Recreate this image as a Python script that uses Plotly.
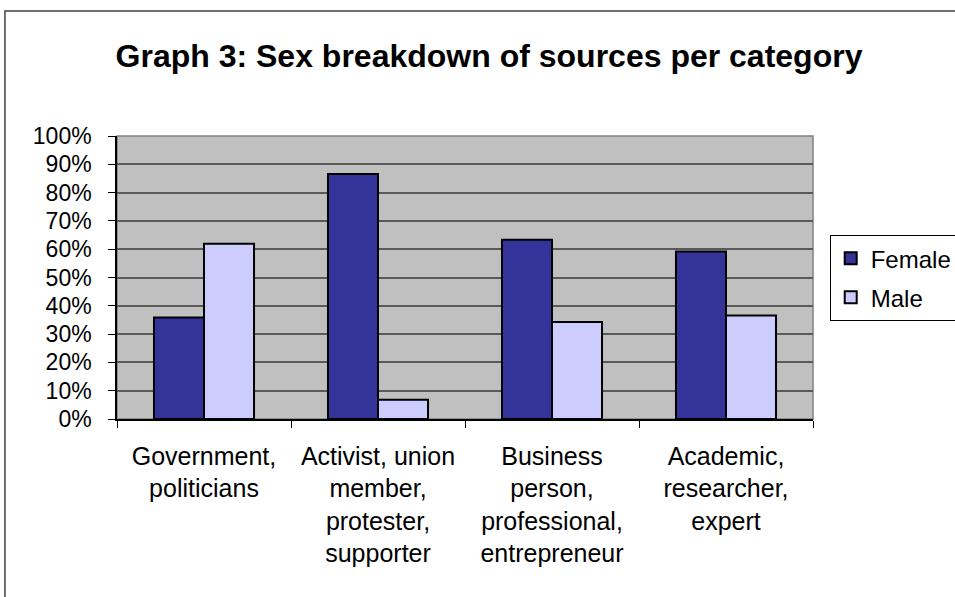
import plotly.graph_objects as go

# Source categories and the share of each sex (in %)
categories = [
    "Government,<br>politicians",
    "Activist, union<br>member,<br>protester,<br>supporter",
    "Business<br>person,<br>professional,<br>entrepreneur",
    "Academic,<br>researcher,<br>expert",
]
female_pct = [35.9, 86.6, 63.3, 59.2]
male_pct = [61.9, 6.8, 34.3, 36.6]

y_ticks = list(range(0, 101, 10))
y_tick_labels = [f"{v}%" for v in y_ticks]

FONT = "Liberation Sans, Arial, sans-serif"

fig = go.Figure()
fig.add_trace(go.Bar(
    name="Female", x=categories, y=female_pct, legendgroup="f",
    marker=dict(color="#333399", line=dict(color="#000000", width=2)),
))
fig.add_trace(go.Bar(
    name="Male", x=categories, y=male_pct, legendgroup="m",
    marker=dict(color="#CCCCFF", line=dict(color="#000000", width=2)),
))

# plot-area frame (drawn beneath the bars)
fig.add_shape(type="rect", xref="x domain", yref="y domain",
              x0=0, x1=1, y0=0, y1=1,
              line=dict(color="#808080", width=1.5), layer="below")

# outer chart border
fig.add_shape(type="rect", xref="paper", yref="paper",
              x0=-0.1610, x1=1.25, y0=-0.70, y1=1.4417,
              line=dict(color="#404040", width=1.5), layer="above")

fig.update_layout(
    width=955, height=597,
    margin=dict(l=117, r=142, t=136, b=178, autoexpand=False),
    paper_bgcolor="#FFFFFF",
    plot_bgcolor="#C0C0C0",
    font=dict(family=FONT, color="#000000"),
    barmode="group",
    bargap=0.425,
    bargroupgap=0,
    title=dict(
        text="Graph 3: Sex breakdown of sources per category",
        font=dict(family=FONT, size=32, weight="bold", color="#000000"),
        x=0.5345, xref="paper", xanchor="center",
        y=1 - 56 / 597, yref="container", yanchor="middle",
    ),
    legend=dict(
        x=1.024, xanchor="left", y=0.650, yanchor="top",
        bordercolor="#000000", borderwidth=1,
        bgcolor="#FFFFFF",
        font=dict(family=FONT, size=24),
        itemwidth=30,
        tracegroupgap=5,
    ),
    showlegend=True,
)

fig.update_xaxes(
    type="category",
    showline=True, linecolor="#000000", linewidth=1.5,
    ticks="outside", ticklen=7, tickcolor="#000000", tickwidth=1,
    tickson="boundaries",
    showgrid=False,
    tickfont=dict(family=FONT, size=25),
    ticklabelstandoff=14,
)
fig.update_yaxes(
    range=[0, 100],
    tickvals=y_ticks, ticktext=y_tick_labels,
    showline=True, linecolor="#000000", linewidth=1.5,
    ticks="outside", ticklen=7, tickcolor="#000000", tickwidth=1,
    showgrid=True, gridcolor="#5A5A5A", gridwidth=1.5,
    zeroline=False,
    tickfont=dict(family=FONT, size=23),
    ticklabelstandoff=12,
)

fig.write_html("out.html")
